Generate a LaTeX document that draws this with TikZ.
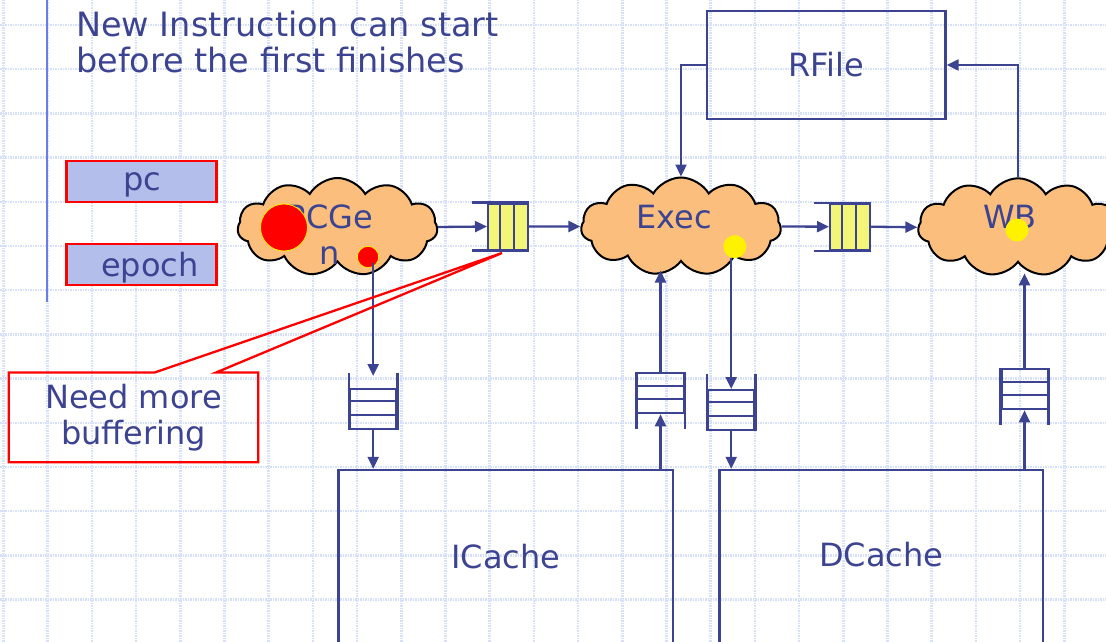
\documentclass[tikz,border=0pt]{standalone}
\usepackage{fontspec}
\setmainfont{DejaVu Sans}
\usetikzlibrary{arrows.meta,shapes.symbols,positioning}

\definecolor{ink}{RGB}{60,68,145}
\definecolor{gridblue}{RGB}{214,224,250}
\definecolor{barblue}{RGB}{105,125,230}
\definecolor{peach}{RGB}{252,190,125}
\definecolor{cellyellow}{RGB}{243,245,120}
\definecolor{regfill}{RGB}{180,190,235}

\tikzset{
  big/.style={font=\fontsize{32}{36}\selectfont, text=ink},
  stage/.style={cloud, cloud puffs=11, cloud puff arc=120, aspect=2, draw=black, line width=2pt,
    fill=peach, minimum width=200pt, minimum height=98pt, inner sep=0pt},
  unit/.style={draw=ink, line width=2.3pt, inner sep=0pt, big},
  reg/.style={draw=red, line width=2.3pt, fill=regfill, minimum width=150pt, minimum height=41pt, inner sep=0pt},
  cell/.style={draw=ink, line width=2pt, inner sep=0pt},
  wire/.style={draw=ink, line width=2.3pt},
  arr/.style={wire, -{Triangle[length=12pt,width=11pt]}},
}

\begin{document}
\begin{tikzpicture}[x=1pt,y=-1pt]
\useasboundingbox (0,0) rectangle (1106,642);
% background grid
\foreach \i in {0,...,24}
  \draw[gridblue, line width=2.5pt, dash pattern=on 1.5pt off 1pt] (3.5+44.2*\i,0) -- (3.5+44.2*\i,642);
\foreach \j in {0,...,13}
  \draw[gridblue, line width=2.5pt, dash pattern=on 1.5pt off 1pt] (0,25+44.2*\j) -- (1106,25+44.2*\j);
\draw[barblue, line width=1.8pt] (47,0) -- (47,302);

% title
\node[big, font=\fontsize{33.5}{36}\selectfont, align=left, anchor=north west, inner sep=0pt] (title) at (76,11.2)
  {New Instruction can start\\before the first finishes};

% registers
\node[reg] (pc) at (141.5,181.2) {};
\node[big, anchor=base] (pctext) at (142.5,190.7) {pc};
\node[reg] (epoch) at (141.5,264.5) {};
\node[big, anchor=base] (epochtext) at (150,276) {epoch};

% stages
\node[stage] (pcgen) at (337.5,227) {};
\node[big, align=center, anchor=north, inner sep=0pt] (pcgentext) at (330,205) {PCGe\\n};
\node[stage] (exec) at (681,226.5) {};
\node[big, anchor=north, inner sep=0pt] (exectext) at (674.3,205) {Exec};
\node[stage] (wb) at (1018,227.3) {};
\node[big, anchor=north, inner sep=0pt] (wbtext) at (1010,205) {WB};

% epoch markers
\filldraw[fill=red, draw=yellow, line width=0.8pt] (284,227.5) circle (23.5pt);
\filldraw[fill=red, draw=yellow, line width=0.8pt] (368,257) circle (10.7pt);
\fill[yellow] (734.8,246.7) circle (11.5pt);
\fill[yellow] (1017,230) circle (11.5pt);

% register file and caches
\node[unit, minimum width=238.5pt, minimum height=108pt] (rfile) at (826.3,65) {RFile};
\node[unit, text depth=20pt, minimum width=334.4pt, minimum height=191.7pt] (icache) at (505.8,565.85) {ICache};
\node[unit, text depth=20pt, minimum width=323.5pt, minimum height=189.1pt] (dcache) at (881.3,564.55) {DCache};

% horizontal queues
\node[cell, fill=cellyellow, minimum width=40pt, minimum height=46pt] (q1) at (508,226.5) {};
\node[cell, fill=cellyellow, minimum width=40pt, minimum height=46pt] (q2) at (850,226.7) {};
\foreach \q in {q1,q2} {
  \foreach \k in {1,2}
    \draw[ink, line width=2pt] ([xshift=\k*13.33pt]\q.north west) -- ([xshift=\k*13.33pt]\q.south west);
  \draw[wire] (\q.north east) -- ++(-57,0);
  \draw[wire] (\q.south east) -- ++(-57,0);
}

% vertical queues
\node[cell, minimum width=46.4pt, minimum height=40pt] (qa) at (373.2,409) {};
\node[cell, minimum width=46.3pt, minimum height=40pt] (qb) at (660.5,393.3) {};
\node[cell, minimum width=46.5pt, minimum height=40pt] (qc) at (731.2,410) {};
\node[cell, minimum width=46pt, minimum height=40pt] (qd) at (1024.5,389.3) {};
\foreach \q in {qa,qb,qc,qd}
  \foreach \k in {1,2}
    \draw[ink, line width=2pt] ([yshift=-\k*13.33pt]\q.north west) -- ([yshift=-\k*13.33pt]\q.north east);
\foreach \q in {qa,qc} {
  \draw[wire] (\q.south west) -- ++(0,-57);
  \draw[wire] (\q.south east) -- ++(0,-57);
}
\foreach \q in {qb,qd} {
  \draw[wire] (\q.north west) -- ++(0,57);
  \draw[wire] (\q.north east) -- ++(0,57);
}

% pipeline flow
\draw[arr] (pcgen.east) -- (q1.west);
\draw[arr] (q1.east) -- (exec.west);
\draw[arr] (exec.east) -- (q2.west);
\draw[arr] (q2.east) -- (wb.west);
\draw[arr] (qa.north |- pcgen.south) -- ([yshift=12pt]qa.north);
\draw[arr] (qa.south) -- (qa.south |- icache.north);
\draw[arr] (qb.south |- icache.north) -- (qb.south);
\draw[arr] (qb.north) -- ([yshift=-8pt]qb.north |- exec.south);
\draw[arr] ([yshift=5pt]qc.north |- exec.south) -- (qc.north);
\draw[arr] (qc.south) -- (qc.south |- dcache.north);
\draw[arr] (qd.south |- dcache.north) -- (qd.south);
\draw[arr] (qd.north) -- ([yshift=-10pt]qd.north |- wb.south);
\draw[arr] (rfile.west) -| (exec.north);
\draw[arr] (wb.north) |- (rfile.east);

% callout
\node[big, align=center, minimum width=249pt, minimum height=89.3pt, inner sep=0pt] (need) at (133.5,417.3)
  {Need more\\buffering};
\coordinate (tip) at (502,253);
\draw[red, line width=2.3pt] ([xshift=146pt]need.north west) -- (need.north west) -- (need.south west)
  -- (need.south east) -- (need.north east) -- ([xshift=-42pt]need.north east) -- (tip) -- cycle;
\end{tikzpicture}
\end{document}
